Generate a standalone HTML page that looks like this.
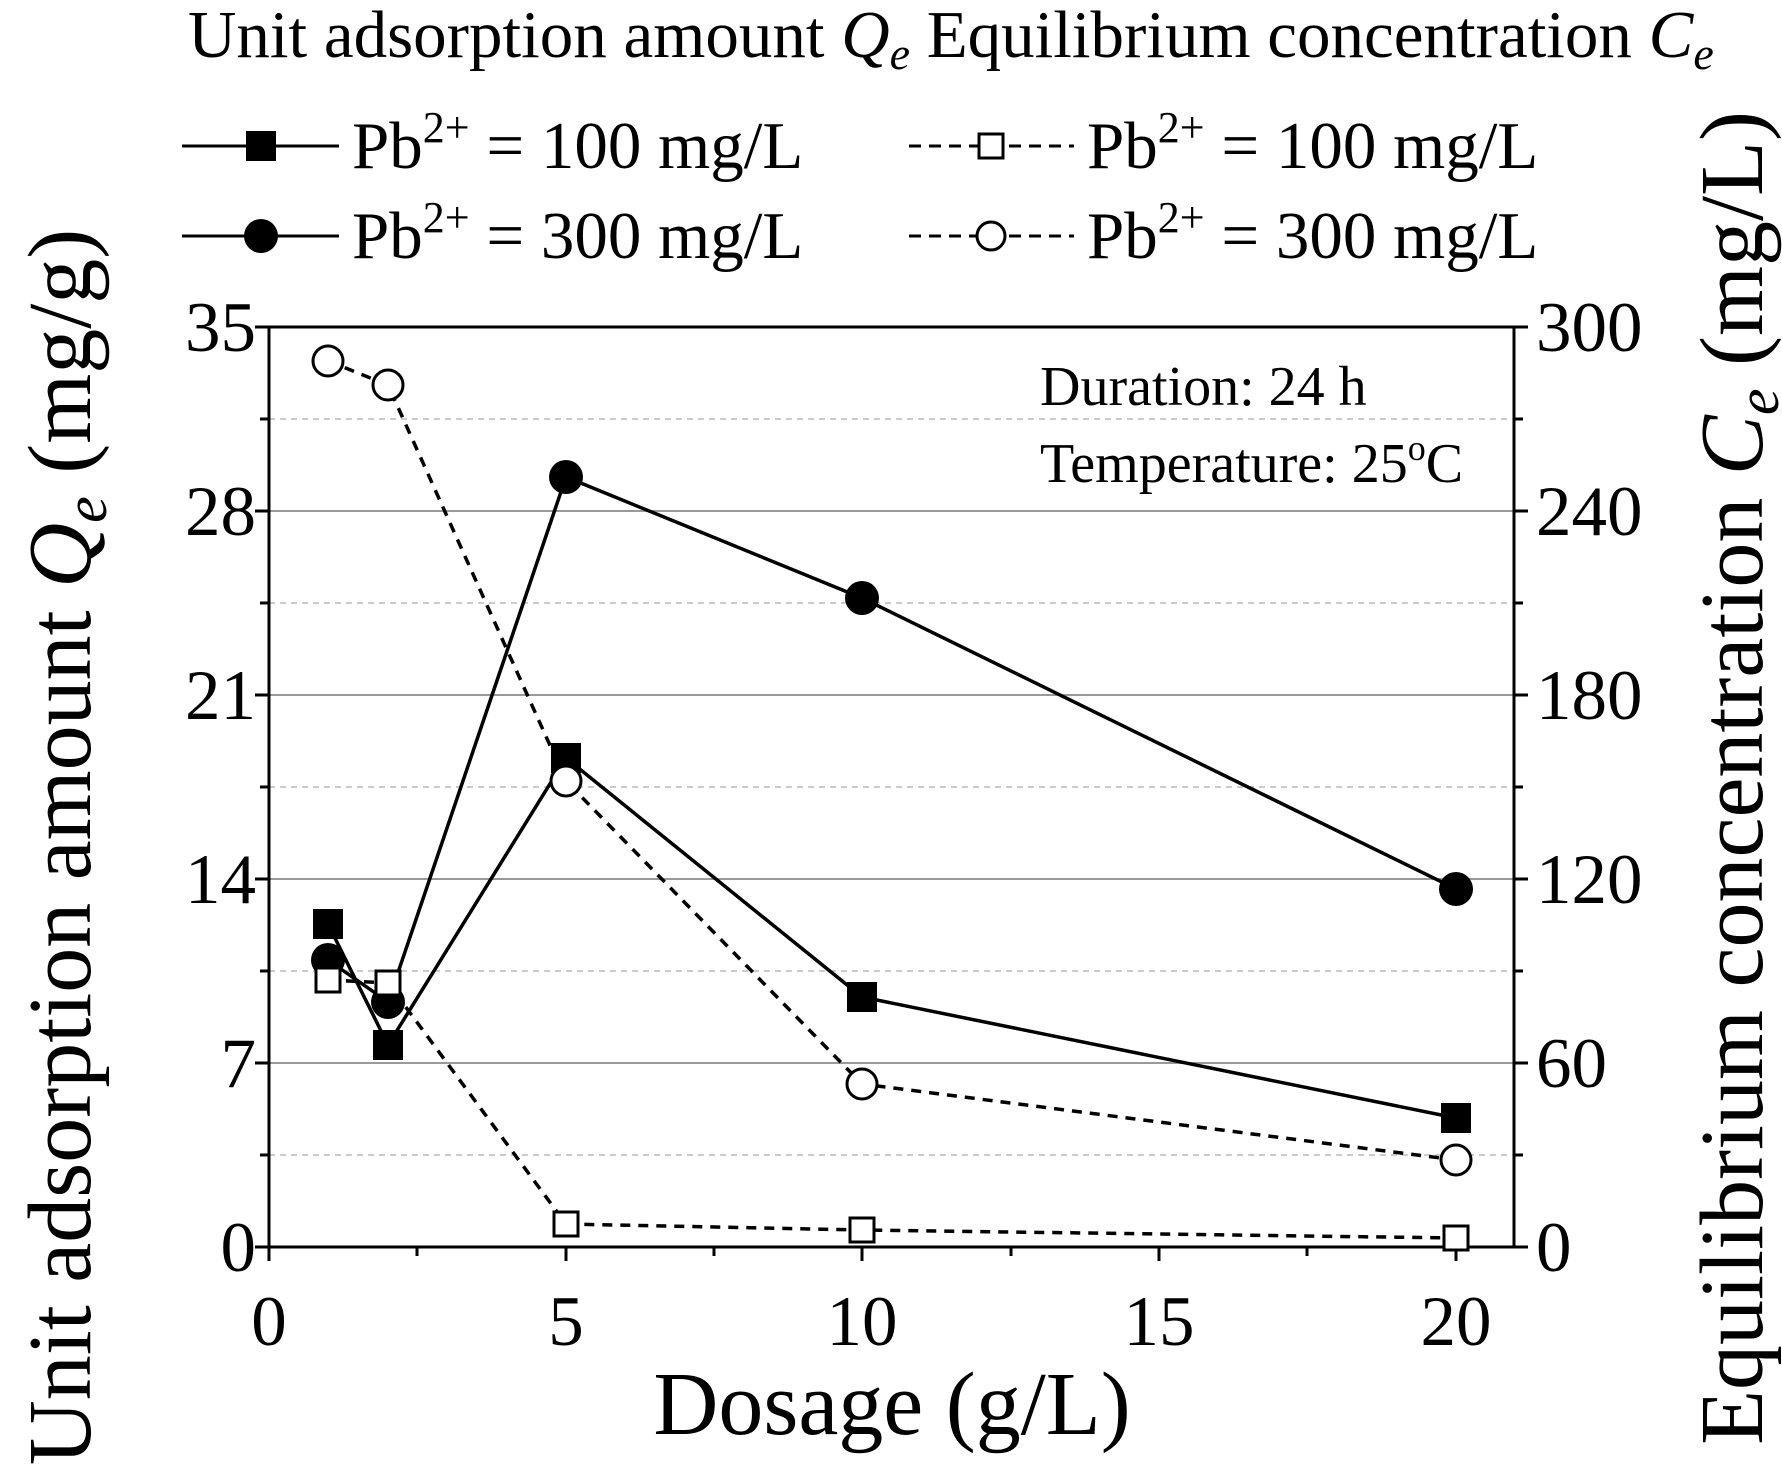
<!DOCTYPE html>
<html><head><meta charset="utf-8"><style>html,body{margin:0;padding:0;background:#fff}svg{display:block}</style></head>
<body>
<svg width="1782" height="1470" viewBox="0 0 1782 1470" xmlns="http://www.w3.org/2000/svg" font-family="Liberation Serif, serif">
<rect width="1782" height="1470" fill="#fff"/>
<g stroke="#999" stroke-width="2">
<line x1="269" x2="1514" y1="1063" y2="1063"/><line x1="269" x2="1514" y1="879" y2="879"/>
<line x1="269" x2="1514" y1="695" y2="695"/><line x1="269" x2="1514" y1="511" y2="511"/>
</g>
<g stroke="#ccc" stroke-width="2" stroke-dasharray="6,5">
<line x1="269" x2="1514" y1="1155" y2="1155"/><line x1="269" x2="1514" y1="971" y2="971"/>
<line x1="269" x2="1514" y1="787" y2="787"/><line x1="269" x2="1514" y1="603" y2="603"/>
<line x1="269" x2="1514" y1="419" y2="419"/>
</g>
<g stroke="#000" stroke-width="3" fill="none">
<rect x="269" y="327" width="1245" height="920"/>
<path d="M269 1247v14M566 1247v14M862 1247v14M1159 1247v14M1456 1247v14M417 1247v9M714 1247v9M1011 1247v9M1307 1247v9"/>
<path d="M269 1247h-14M269 1063h-14M269 879h-14M269 695h-14M269 511h-14M269 327h-14M269 1155h-9M269 971h-9M269 787h-9M269 603h-9M269 419h-9"/>
<path d="M1514 1247h14M1514 1063h14M1514 879h14M1514 695h14M1514 511h14M1514 327h14M1514 1155h9M1514 971h9M1514 787h9M1514 603h9M1514 419h9"/>
</g>
<g font-size="71" text-anchor="end">
<text x="256" y="1271">0</text><text x="256" y="1087">7</text><text x="256" y="903">14</text><text x="256" y="719">21</text><text x="256" y="535">28</text><text x="256" y="351">35</text>
</g>
<g font-size="71" text-anchor="start">
<text x="1536" y="1271">0</text><text x="1536" y="1087">60</text><text x="1536" y="903">120</text><text x="1536" y="719">180</text><text x="1536" y="535">240</text><text x="1536" y="351">300</text>
</g>
<g font-size="71" text-anchor="middle">
<text x="269" y="1345">0</text><text x="566" y="1345">5</text><text x="862" y="1345">10</text><text x="1159" y="1345">15</text><text x="1456" y="1345">20</text>
</g>
<text x="892" y="1434" font-size="90" text-anchor="middle">Dosage (g/L)</text>
<text transform="translate(90,847) rotate(-90)" font-size="90" text-anchor="middle">Unit adsorption amount <tspan font-style="italic">Q<tspan font-size="60" dy="16">e</tspan></tspan><tspan dy="-16"> (mg/g)</tspan></text>
<text transform="translate(1762,778) rotate(-90)" font-size="90" text-anchor="middle">Equilibrium concentration <tspan font-style="italic">C<tspan font-size="60" dy="16">e</tspan></tspan><tspan dy="-16"> (mg/L)</tspan></text>
<text x="188" y="57" font-size="67">Unit adsorption amount <tspan font-style="italic">Q<tspan font-size="46" dy="12">e</tspan></tspan><tspan dy="-12"> Equilibrium concentration </tspan><tspan font-style="italic">C<tspan font-size="46" dy="12">e</tspan></tspan></text>
<g stroke="#000" stroke-width="3">
<line x1="182" x2="339" y1="146" y2="146"/><line x1="182" x2="339" y1="236" y2="236"/>
<line x1="909" x2="1074" y1="146" y2="146" stroke-dasharray="12,8"/><line x1="909" x2="1074" y1="236" y2="236" stroke-dasharray="12,8"/>
</g>
<rect x="246" y="131" width="30" height="30" fill="#000"/>
<circle cx="261" cy="236" r="17" fill="#000"/>
<rect x="979" y="134" width="24" height="24" fill="#fff" stroke="#000" stroke-width="3"/>
<circle cx="991" cy="236" r="14" fill="#fff" stroke="#000" stroke-width="3"/>
<g font-size="67">
<text x="352" y="168">Pb<tspan font-size="44" dy="-26">2+</tspan><tspan dy="26"> = 100 mg/L</tspan></text>
<text x="352" y="258">Pb<tspan font-size="44" dy="-26">2+</tspan><tspan dy="26"> = 300 mg/L</tspan></text>
<text x="1087" y="168">Pb<tspan font-size="44" dy="-26">2+</tspan><tspan dy="26"> = 100 mg/L</tspan></text>
<text x="1087" y="258">Pb<tspan font-size="44" dy="-26">2+</tspan><tspan dy="26"> = 300 mg/L</tspan></text>
</g>
<g font-size="56">
<text x="1040" y="405">Duration: 24 h</text>
<text x="1040" y="482">Temperature: 25<tspan font-size="36" dy="-22">o</tspan><tspan dy="22">C</tspan></text>
</g>
<g fill="none" stroke="#000" stroke-width="3.5">
<polyline points="328,924 388,1045 566,758 862,997 1456,1118"/>
<polyline points="328,960 388,1002 566,477 862,598 1456,889"/>
<polyline stroke-dasharray="10,8" points="328,980 388,983 566,1224 862,1230 1456,1238"/>
<polyline stroke-dasharray="10,8" points="328,361 388,385 566,781 862,1084 1456,1160"/>
</g>
<g fill="#000">
<rect x="313" y="909" width="30" height="30"/><rect x="373" y="1030" width="30" height="30"/><rect x="551" y="743" width="30" height="30"/><rect x="847" y="982" width="30" height="30"/><rect x="1441" y="1103" width="30" height="30"/>
<circle cx="328" cy="960" r="17"/><circle cx="388" cy="1002" r="17"/><circle cx="566" cy="477" r="17"/><circle cx="862" cy="598" r="17"/><circle cx="1456" cy="889" r="17"/>
</g>
<g fill="#fff" stroke="#000" stroke-width="3">
<rect x="316" y="968" width="24" height="24"/><rect x="376" y="971" width="24" height="24"/><rect x="554" y="1212" width="24" height="24"/><rect x="850" y="1218" width="24" height="24"/><rect x="1444" y="1226" width="24" height="24"/>
<circle cx="328" cy="361" r="15"/><circle cx="388" cy="385" r="15"/><circle cx="566" cy="781" r="15"/><circle cx="862" cy="1084" r="15"/><circle cx="1456" cy="1160" r="15"/>
</g>
</svg>
</body></html>
